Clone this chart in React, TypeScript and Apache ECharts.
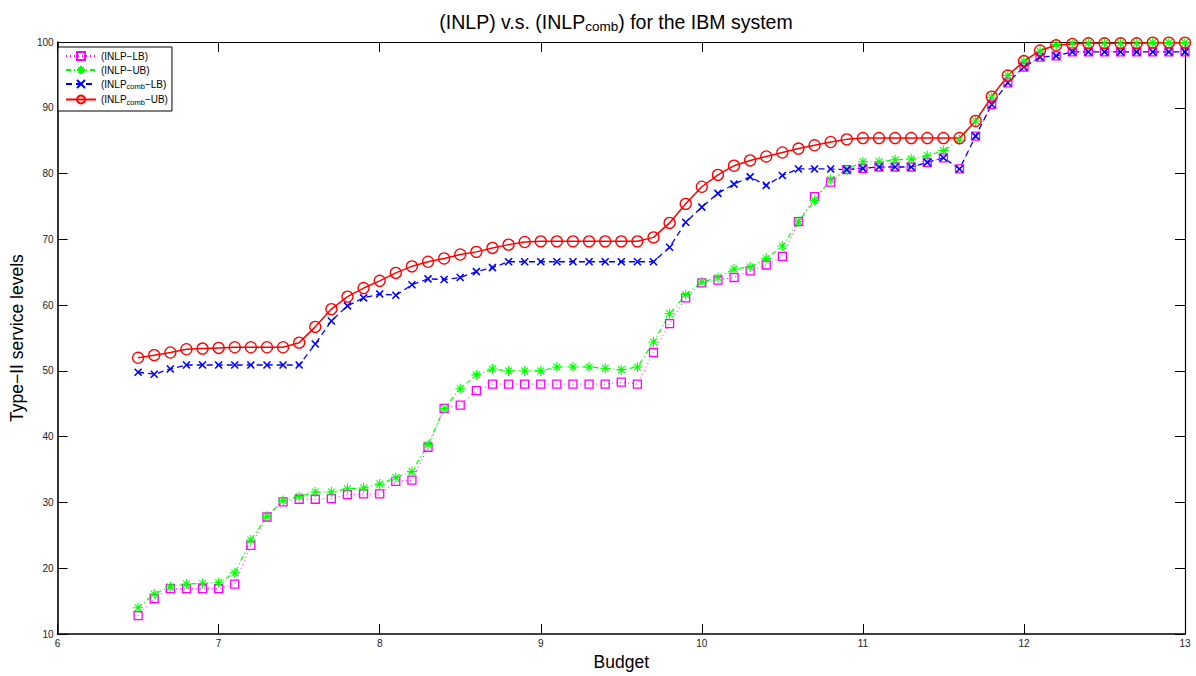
import React, { useEffect, useRef } from "react";
import * as echarts from "echarts";

const budget = [
  6.5, 6.6, 6.7, 6.8, 6.9, 7.0, 7.1, 7.2, 7.3, 7.4,
  7.5, 7.6, 7.7, 7.8, 7.9, 8.0, 8.1, 8.2, 8.3, 8.4,
  8.5, 8.6, 8.7, 8.8, 8.9, 9.0, 9.1, 9.2, 9.3, 9.4,
  9.5, 9.6, 9.7, 9.8, 9.9, 10.0, 10.1, 10.2, 10.3, 10.4,
  10.5, 10.6, 10.7, 10.8, 10.9, 11.0, 11.1, 11.2, 11.3, 11.4,
  11.5, 11.6, 11.7, 11.8, 11.9, 12.0, 12.1, 12.2, 12.3, 12.4,
  12.5, 12.6, 12.7, 12.8, 12.9, 13.0,
];

const inlpLB = [
  12.8, 15.4, 16.9, 16.9, 16.9, 16.9, 17.6, 23.5, 27.8, 30.1,
  30.5, 30.5, 30.6, 31.2, 31.3, 31.3, 33.2, 33.4, 38.4, 44.3,
  44.8, 47.0, 48.0, 48.0, 48.0, 48.0, 48.0, 48.0, 48.0, 48.0,
  48.3, 48.0, 52.8, 57.2, 61.1, 63.4, 63.8, 64.2, 65.2, 66.1,
  67.4, 72.7, 76.5, 78.7, 80.6, 80.8, 81.0, 81.0, 81.0, 81.7,
  82.4, 80.7, 85.7, 90.5, 93.8, 96.2, 97.7, 97.9, 98.5, 98.5,
  98.5, 98.5, 98.5, 98.5, 98.5, 98.5,
];

const inlpUB = [
  14.0, 16.1, 17.2, 17.6, 17.7, 17.8, 19.3, 24.3, 27.9, 30.3,
  30.9, 31.6, 31.6, 32.1, 32.2, 32.8, 33.8, 34.7, 38.8, 44.3,
  47.3, 49.4, 50.3, 50.0, 50.0, 50.0, 50.6, 50.6, 50.6, 50.4,
  50.2, 50.6, 54.4, 58.7, 61.6, 63.5, 64.2, 65.5, 65.8, 67.1,
  69.0, 72.7, 75.9, 79.1, 80.6, 81.8, 81.8, 82.1, 82.2, 82.7,
  83.5, 85.1, 88.0, 91.6, 94.9, 97.1, 98.6, 99.6, 99.8, 99.8,
  99.8, 99.8, 99.8, 99.9, 99.9, 99.9,
];

const combLB = [
  49.8, 49.5, 50.3, 50.9, 50.9, 50.9, 50.9, 50.9, 50.9, 50.9,
  50.9, 54.1, 57.6, 59.9, 61.1, 61.7, 61.5, 63.1, 64.0, 63.9,
  64.2, 65.1, 65.7, 66.6, 66.6, 66.6, 66.6, 66.6, 66.6, 66.6,
  66.6, 66.6, 66.6, 68.8, 72.6, 74.9, 77.0, 78.4, 79.5, 78.2,
  79.7, 80.7, 80.7, 80.7, 80.6, 80.8, 81.0, 81.0, 81.0, 81.7,
  82.4, 80.7, 85.7, 90.5, 93.8, 96.2, 97.7, 97.9, 98.5, 98.5,
  98.5, 98.5, 98.5, 98.5, 98.5, 98.5,
];

const combUB = [
  52.0, 52.4, 52.8, 53.3, 53.4, 53.5, 53.6, 53.6, 53.6, 53.6,
  54.3, 56.7, 59.4, 61.3, 62.6, 63.7, 64.9, 65.9, 66.6, 67.1,
  67.7, 68.1, 68.7, 69.2, 69.6, 69.7, 69.7, 69.7, 69.7, 69.7,
  69.7, 69.7, 70.3, 72.5, 75.4, 78.0, 79.8, 81.2, 82.0, 82.6,
  83.2, 83.8, 84.3, 84.8, 85.2, 85.4, 85.4, 85.4, 85.4, 85.4,
  85.4, 85.4, 88.0, 91.7, 94.9, 97.1, 98.7, 99.5, 99.7, 99.8,
  99.8, 99.8, 99.8, 99.9, 99.9, 99.9,
];

const seriesNames = ["(INLP−LB)", "(INLP−UB)", "(INLPcomb−LB)", "(INLPcomb−UB)"];

const FONT = "'Liberation Sans', Arial, sans-serif";
const symX = "path://M0,0L10,10M10,0L0,10";
const symStar = "path://M5,0L5,10M0,5L10,5M1.6,1.6L8.4,8.4M8.4,1.6L1.6,8.4";

function pairs(vals: number[]) {
  return budget.map((b, i) => [b, vals[i]]);
}

export default function App() {
  const ref = useRef<HTMLDivElement>(null);
  useEffect(() => {
    document.body.style.margin = "0";
    const chart = echarts.init(ref.current!, null, { renderer: "svg" });
    const gridL = 54, gridR = 11, gridT = 42, gridB = 38;
    const axisCommon = {
      type: "value" as const,
      splitLine: { show: false },
      axisTick: { show: true, inside: true, length: 10, lineStyle: { color: "#000", width: 1 } },
    };
    chart.setOption({
      animation: false,
      backgroundColor: "#fff",
      grid: { left: gridL, right: gridR, top: gridT, bottom: gridB, containLabel: false },
      graphic: [
        {
          type: "text",
          x: 616,
          y: 10,
          style: {
            text: "{a|(INLP) v.s. (INLP}{b|comb}{a|) for the IBM system}",
            fill: "#000",
            align: "center",
            verticalAlign: "top",
            rich: {
              a: { fontSize: 19.5, fontFamily: FONT, fill: "#000" },
              b: { fontSize: 13.5, fontFamily: FONT, fill: "#000", padding: [9, 0, 0, 0] },
            },
          },
        },
      ],
      legend: {
        orient: "vertical",
        left: 58,
        top: 47,
        padding: [4, 4, 5, 7],
        itemWidth: 30,
        itemHeight: 10,
        itemGap: 4,
        borderColor: "#000",
        borderWidth: 1,
        backgroundColor: "#fff",
        data: seriesNames,
        formatter: (name: string) => {
          if (name.indexOf("comb") >= 0) {
            const rest = name.replace("(INLPcomb", "");
            return "{a|(INLP}{s|comb}{a|" + rest + "}";
          }
          return "{a|" + name + "}";
        },
        textStyle: {
          fontFamily: FONT,
          fontSize: 10,
          color: "#000",
          rich: {
            a: { fontSize: 10, fontFamily: FONT, color: "#000" },
            s: { fontSize: 7.5, fontFamily: FONT, color: "#000", padding: [5, 0, 0, 0] },
          },
        },
      },
      xAxis: [
        {
          ...axisCommon,
          min: 6,
          max: 13,
          interval: 1,
          position: "bottom",
          name: "Budget",
          nameLocation: "middle",
          nameGap: 17,
          nameTextStyle: { fontSize: 17.5, fontFamily: FONT, color: "#000" },
          axisLine: { show: true, onZero: false, lineStyle: { color: "#000", width: 1.6 } },
          axisLabel: { fontSize: 10, fontFamily: FONT, color: "#222", margin: 4 },
        },
        {
          ...axisCommon,
          min: 6,
          max: 13,
          interval: 1,
          position: "top",
          axisLine: { show: true, onZero: false, lineStyle: { color: "#000", width: 1.2 } },
          axisLabel: { show: false },
        },
      ],
      yAxis: [
        {
          ...axisCommon,
          min: 10,
          max: 100,
          interval: 10,
          position: "left",
          name: "Type−II service levels",
          nameLocation: "middle",
          nameGap: 27,
          nameRotate: 90,
          nameTextStyle: { fontSize: 17.5, fontFamily: FONT, color: "#000" },
          axisLine: { show: true, onZero: false, lineStyle: { color: "#000", width: 1.6 } },
          axisLabel: { fontSize: 10, fontFamily: FONT, color: "#222", margin: 4 },
        },
        {
          ...axisCommon,
          min: 10,
          max: 100,
          interval: 10,
          position: "right",
          axisLine: { show: true, onZero: false, lineStyle: { color: "#000", width: 1.2 } },
          axisLabel: { show: false },
        },
      ],
      series: [
        {
          name: seriesNames[0],
          type: "line",
          data: pairs(inlpLB),
          symbol: "rect",
          symbolSize: 8,
          showAllSymbol: true,
          lineStyle: { color: "#ff00ff", width: 1, type: [1, 3] },
          itemStyle: { color: "rgba(0,0,0,0)", borderColor: "#ff00ff", borderWidth: 1.3 },
          emphasis: { disabled: true },
        },
        {
          name: seriesNames[1],
          type: "line",
          data: pairs(inlpUB),
          symbol: symStar,
          symbolSize: 10,
          showAllSymbol: true,
          lineStyle: { color: "#00ff00", width: 1.2, type: [5, 3, 1, 3] },
          itemStyle: { color: "#00ff00", borderColor: "#00ff00", borderWidth: 1.1 },
          emphasis: { disabled: true },
        },
        {
          name: seriesNames[2],
          type: "line",
          data: pairs(combLB),
          symbol: symX,
          symbolSize: 7,
          showAllSymbol: true,
          lineStyle: { color: "#0000ff", width: 1.3, type: [6, 4] },
          itemStyle: { color: "#0000ff", borderColor: "#0000ff", borderWidth: 1.6 },
          emphasis: { disabled: true },
        },
        {
          name: seriesNames[3],
          type: "line",
          data: pairs(combUB),
          symbol: "circle",
          symbolSize: 11,
          showAllSymbol: true,
          lineStyle: { color: "#ff0000", width: 1.5, type: "solid" },
          itemStyle: { color: "rgba(0,0,0,0)", borderColor: "#ff0000", borderWidth: 1.3 },
          emphasis: { disabled: true },
        },
      ],
    });
    return () => chart.dispose();
  }, []);
  return <div ref={ref} style={{ width: 1196, height: 676 }} />;
}
